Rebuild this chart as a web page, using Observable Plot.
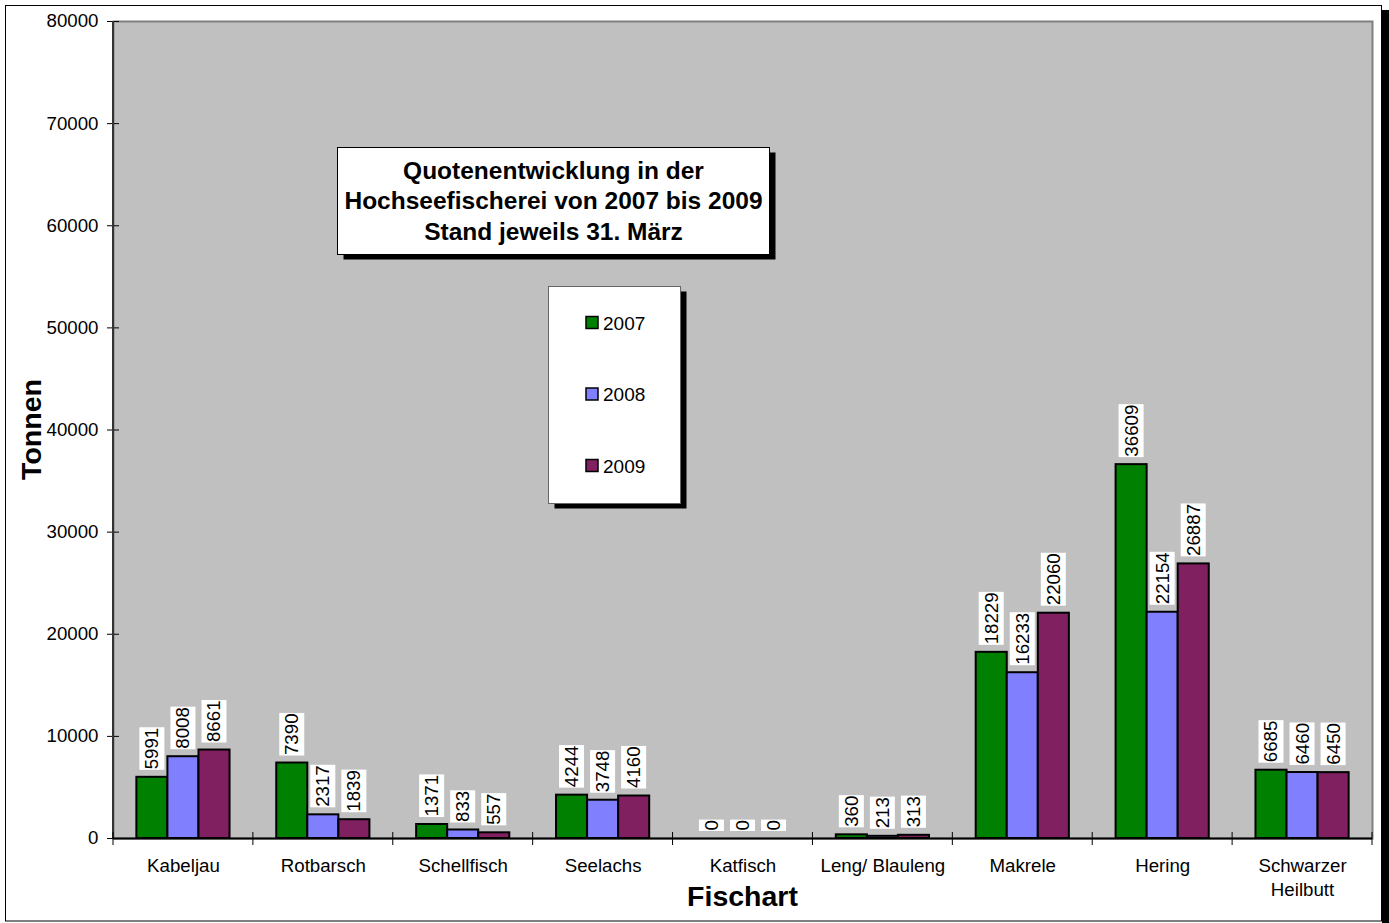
<!DOCTYPE html>
<html><head><meta charset="utf-8">
<script src="https://cdn.jsdelivr.net/npm/d3@7"></script>
<script src="https://cdn.jsdelivr.net/npm/@observablehq/plot@0.6"></script>
<style>
body{margin:0;background:#fff;}
#chart{width:1389px;height:923px;overflow:hidden;}
</style></head><body><div id="chart"></div>
<script>
const categories = ["Kabeljau","Rotbarsch","Schellfisch","Seelachs","Katfisch","Leng/ Blauleng","Makrele","Hering","Schwarzer Heilbutt"];
const categoryLabels = ["Kabeljau","Rotbarsch","Schellfisch","Seelachs","Katfisch","Leng/ Blauleng","Makrele","Hering","Schwarzer\nHeilbutt"];
const years = ["2007","2008","2009"];
const values2007 = [5991,7390,1371,4244,0,360,18229,36609,6685];
const values2008 = [8008,2317,833,3748,0,213,16233,22154,6460];
const values2009 = [8661,1839,557,4160,0,313,22060,26887,6450];
const colors = ["#008000","#8080FF","#802060"];
const yTicks = [0,10000,20000,30000,40000,50000,60000,70000,80000];
const titleLines = ["Quotenentwicklung in der","Hochseefischerei von 2007 bis 2009","Stand jeweils 31. März"];
const yTitle = "Tonnen";
const xTitle = "Fischart";

const W = 1389, H = 923;
const mL = 113, mR = 17, mT = 21, mB = 85;
const pad = 0.778;
const step = (W - mL - mR) / categories.length;
const bw = step * (1 - pad);
const FONT = "'Liberation Sans', Arial, sans-serif";

const series = [values2007, values2008, values2009];
const rows = [];
categories.forEach((c, i) => series.forEach((arr, j) => rows.push({cat: c, year: years[j], value: arr[i]})));

const plot = Plot.plot({
  width: W, height: H,
  marginLeft: mL, marginRight: mR, marginTop: mT, marginBottom: mB,
  style: {fontFamily: FONT, fontSize: "18.7px", background: "white", color: "black"},
  x: {domain: categories, paddingInner: pad, paddingOuter: pad / 2, round: false},
  y: {domain: [0, 80000]},
  marks: [
    Plot.frame({fill: "#C0C0C0", stroke: "#808080", strokeWidth: 2}),
    ...years.map((yr, j) => Plot.barY(rows.filter(d => d.year === yr), {
      x: "cat", y: "value", fill: colors[j], stroke: "black", strokeWidth: 2, dx: (j - 1) * bw
    })),
    ...years.map((yr, j) => Plot.text(rows.filter(d => d.year === yr), {
      x: "cat", y: "value", text: d => String(d.value), rotate: -90,
      textAnchor: "start", lineAnchor: "middle", dx: (j - 1) * bw, dy: -8,
      fill: "black", fontSize: 18.7
    })),
    Plot.ruleY([0], {stroke: "black", strokeWidth: 2}),
    Plot.axisY(yTicks, {tickSize: 12, dx: 6, tickPadding: 9, tickFormat: "d", fontSize: 18.7, label: null, stroke: "black"}),
    Plot.axisX({tickSize: 0, tickPadding: 16, fontSize: 18.7, label: null, lineHeight: 1.3,
      tickFormat: d => categoryLabels[categories.indexOf(d)]})
  ]
});
document.getElementById("chart").appendChild(plot);

const svg = d3.select(plot);
// white boxes behind value labels
svg.selectAll('g[aria-label="text"] text').each(function() {
  const b = this.getBBox();
  const r = document.createElementNS("http://www.w3.org/2000/svg", "rect");
  const t = this.getAttribute("transform");
  if (t) r.setAttribute("transform", t);
  r.setAttribute("x", b.x - 0.5); r.setAttribute("y", b.y - 2);
  r.setAttribute("width", b.width + 1); r.setAttribute("height", b.height + 4);
  r.setAttribute("fill", "white");
  r.setAttribute("stroke", "none");
  this.parentNode.insertBefore(r, this);
});

const xs = plot.scale("x"), ys = plot.scale("y");
const x0 = xs.range[0], x1 = xs.range[1];
const yTop = ys.apply(80000), yBot = ys.apply(0);
const ov = svg.append("g").attr("text-anchor", "start");
// left axis line
ov.append("line").attr("x1", x0).attr("x2", x0).attr("y1", yTop).attr("y2", yBot)
  .attr("stroke", "#333").attr("stroke-width", 2);
// x boundary ticks
const stepPx = (x1 - x0) / categories.length;
for (let i = 0; i <= categories.length; i++) {
  const xx = x0 + i * stepPx;
  ov.append("line").attr("x1", xx).attr("x2", xx).attr("y1", yBot - 6).attr("y2", yBot + 7)
    .attr("stroke", "black").attr("stroke-width", 1);
}
// axis titles
ov.append("text").attr("x", (x0 + x1) / 2).attr("y", 896).attr("text-anchor", "middle")
  .attr("dominant-baseline", "central").attr("font-family", FONT).attr("font-weight", "bold")
  .attr("font-size", 28.5).text(xTitle);
ov.append("text").attr("transform", `translate(31,${(yTop + yBot) / 2}) rotate(-90)`)
  .attr("text-anchor", "middle").attr("dominant-baseline", "central").attr("font-family", FONT)
  .attr("font-weight", "bold").attr("font-size", 28.5).text(yTitle);

// title box
const tb = {x: 337.5, y: 147.5, w: 432, h: 107};
ov.append("rect").attr("x", tb.x + 6).attr("y", tb.y + 5).attr("width", tb.w).attr("height", tb.h).attr("fill", "black");
ov.append("rect").attr("x", tb.x).attr("y", tb.y).attr("width", tb.w).attr("height", tb.h)
  .attr("fill", "white").attr("stroke", "black").attr("stroke-width", 1);
titleLines.forEach((s, i) => {
  ov.append("text").attr("x", tb.x + tb.w / 2).attr("y", 170 + i * 30.5).attr("text-anchor", "middle")
    .attr("dominant-baseline", "central").attr("font-family", FONT).attr("font-weight", "bold")
    .attr("font-size", 24.5).text(s);
});

// legend box
const lb = {x: 548.5, y: 286.5, w: 132, h: 217};
ov.append("rect").attr("x", lb.x + 6).attr("y", lb.y + 5).attr("width", lb.w).attr("height", lb.h).attr("fill", "black");
ov.append("rect").attr("x", lb.x).attr("y", lb.y).attr("width", lb.w).attr("height", lb.h)
  .attr("fill", "white").attr("stroke", "#666").attr("stroke-width", 1);
years.forEach((yr, j) => {
  const cy = 323 + j * 71.5;
  ov.append("rect").attr("x", 586).attr("y", cy - 6.5).attr("width", 12).attr("height", 12)
    .attr("fill", colors[j]).attr("stroke", "black").attr("stroke-width", 1.5);
  ov.append("text").attr("x", 603).attr("y", cy).attr("text-anchor", "start").attr("dominant-baseline", "central")
    .attr("font-family", FONT).attr("font-size", 19).text(yr);
});

// outer frame and shadow
ov.append("rect").attr("x", 1382).attr("y", 10).attr("width", 8).attr("height", H).attr("fill", "black");
ov.append("rect").attr("x", 5.5).attr("y", 5.5).attr("width", 1376).attr("height", 915.5)
  .attr("fill", "none").attr("stroke", "black").attr("stroke-width", 1);
</script></body></html>
